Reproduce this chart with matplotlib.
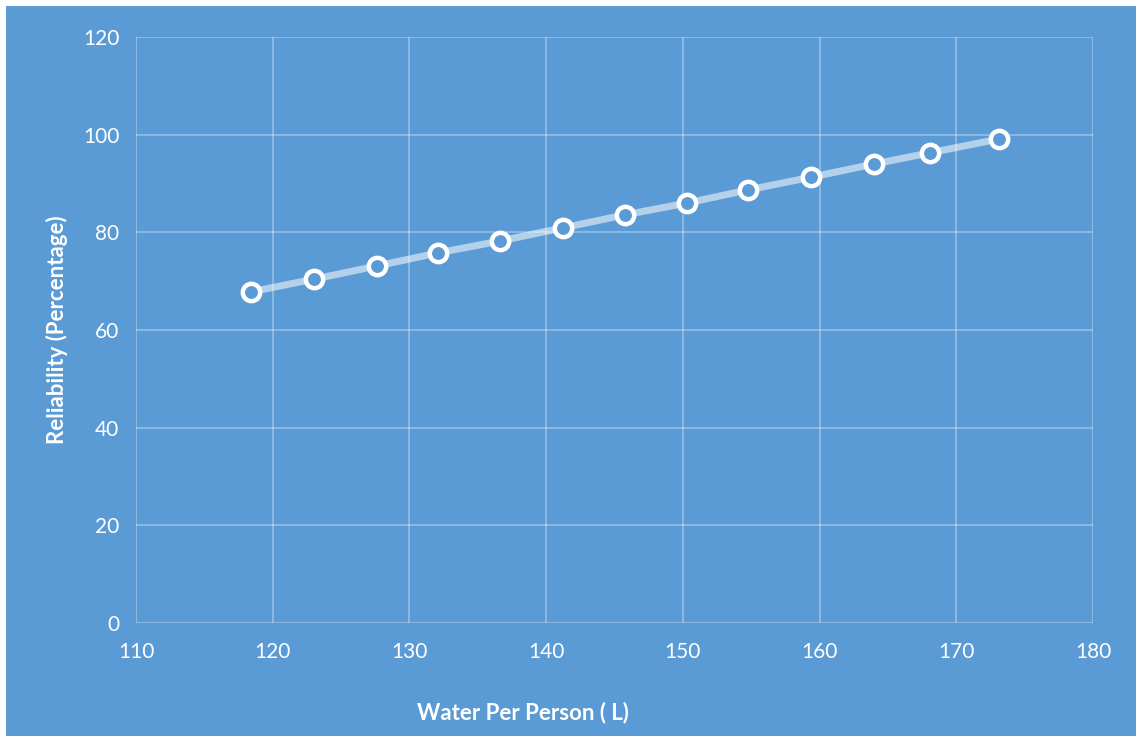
import matplotlib.pyplot as plt
from matplotlib.patches import Rectangle

# values
water = [118.4, 123.0, 127.6, 132.1, 136.6, 141.2, 145.8, 150.3, 154.8, 159.4, 164.0, 168.1, 173.1]
reliability = [67.8, 70.4, 73.1, 75.8, 78.2, 80.9, 83.6, 86.0, 88.7, 91.3, 94.0, 96.3, 99.1]
xticks = [110, 120, 130, 140, 150, 160, 170, 180]
yticks = [0, 20, 40, 60, 80, 100, 120]

bg = '#5B9BD5'
plt.rcParams['font.family'] = ['Lato', 'DejaVu Sans']

fig = plt.figure(figsize=(11.39, 7.36), dpi=100, facecolor='white')
fig.patches.append(Rectangle((6 / 1139, 0), 1130 / 1139, 1 - 6 / 736,
                             transform=fig.transFigure, facecolor=bg,
                             edgecolor='none', zorder=-10))

ax = fig.add_axes([136 / 1139, 1 - 623 / 736, 957 / 1139, 586 / 736])
ax.set_facecolor(bg)
ax.set_xlim(110, 180)
ax.set_ylim(0, 120)
ax.set_xticks(xticks)
ax.set_yticks(yticks)
ax.grid(True, color='white', alpha=0.3, linewidth=1.4)
ax.set_axisbelow(True)
for s in ax.spines.values():
    s.set_visible(False)
ax.tick_params(length=0, colors='white', labelsize=15)
ax.tick_params(axis='x', pad=14)
ax.tick_params(axis='y', pad=12)

ax.plot(water, reliability, color='white', alpha=0.55, linewidth=5, zorder=3)
ax.plot(water, reliability, linestyle='none', marker='o', markersize=12.5,
        markerfacecolor=bg, markeredgecolor='white', markeredgewidth=3.2, zorder=4)

fig.text(523 / 1139, 1 - 713 / 736, 'Water Per Person ( L)', color='white',
         fontsize=16, fontweight='bold', ha='center', va='center')
fig.text(57 / 1139, 1 - 330 / 736, 'Reliability (Percentage)', color='white',
         fontsize=16, fontweight='bold', ha='center', va='center', rotation=90)

fig.savefig('out.png', dpi=100, facecolor='white')
